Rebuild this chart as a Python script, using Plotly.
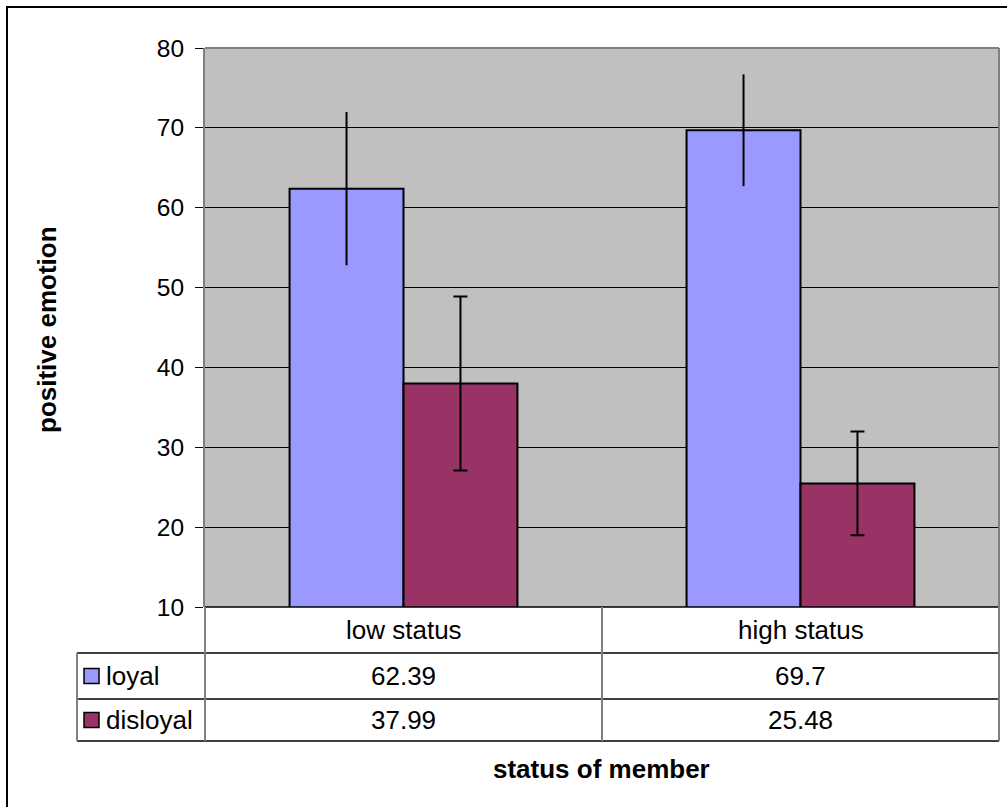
import plotly.graph_objects as go

# ---- data ----
categories = ["low status", "high status"]
series_names = ["loyal", "disloyal"]
loyal = [62.39, 69.7]
disloyal = [37.99, 25.48]
loyal_err = [9.6, 7.0]
disloyal_err = [10.9, 6.5]
y_ticks = [10, 20, 30, 40, 50, 60, 70, 80]
y_title = "positive emotion"
x_title = "status of member"

# ---- layout geometry (pixels) ----
W, H = 1007, 807
PL, PR, PT, PB = 205, 999, 48, 607      # plot area
TAB_L = 77                               # table left edge
ROW1, ROW2, ROW3 = 653, 699, 741         # table row bottoms
FONT = "Liberation Sans, Arial, sans-serif"
colors = ["#9999FF", "#993366"]
GRAY = "#808080"


def px(x):
    return x / W


def py(y):
    return 1 - y / H


fig = go.Figure()
fig.add_trace(go.Bar(
    x=categories, y=loyal, name=series_names[0],
    marker=dict(color=colors[0], line=dict(color="black", width=2)),
    error_y=dict(type="data", array=loyal_err, visible=True,
                 color="black", thickness=2, width=0),
))
fig.add_trace(go.Bar(
    x=categories, y=disloyal, name=series_names[1],
    marker=dict(color=colors[1], line=dict(color="black", width=2)),
    error_y=dict(type="data", array=disloyal_err, visible=True,
                 color="black", thickness=2, width=7),
))

shapes = []
# outer chart frame
shapes.append(dict(type="rect", xref="paper", yref="paper",
                   x0=px(7), x1=px(1015), y0=py(7), y1=py(815),
                   line=dict(color="black", width=2), layer="below"))
# plot area border (gray) top
shapes.append(dict(type="line", xref="paper", yref="paper",
                   x0=px(PL), x1=px(PR), y0=py(PT), y1=py(PT),
                   line=dict(color=GRAY, width=2)))
# table horizontal lines
shapes.append(dict(type="line", xref="paper", yref="paper",
                   x0=px(PL), x1=px(PR), y0=py(PB), y1=py(PB),
                   line=dict(color="black", width=1.5)))
for yy in (ROW1, ROW2, ROW3):
    shapes.append(dict(type="line", xref="paper", yref="paper",
                       x0=px(TAB_L), x1=px(PR), y0=py(yy), y1=py(yy),
                       line=dict(color="black", width=1.5)))
# table vertical lines
shapes.append(dict(type="line", xref="paper", yref="paper",
                   x0=px(TAB_L), x1=px(TAB_L), y0=py(ROW1), y1=py(ROW3),
                   line=dict(color=GRAY, width=2)))
shapes.append(dict(type="line", xref="paper", yref="paper",
                   x0=px(PL), x1=px(PL), y0=py(PB), y1=py(ROW3),
                   line=dict(color=GRAY, width=2)))
mid = (PL + PR) / 2
shapes.append(dict(type="line", xref="paper", yref="paper",
                   x0=px(mid), x1=px(mid), y0=py(PB), y1=py(ROW3),
                   line=dict(color=GRAY, width=2)))
shapes.append(dict(type="line", xref="paper", yref="paper",
                   x0=px(PR), x1=px(PR), y0=py(PT), y1=py(ROW3),
                   line=dict(color=GRAY, width=2)))

annotations = []
row_centers = [(ROW1 + ROW2) / 2, (ROW2 + ROW3) / 2]
cat_w = (PR - PL) / len(categories)
TXT = dict(size=26, color="black", family=FONT)
# category header
for i, c in enumerate(categories):
    annotations.append(dict(x=px(PL + (i + 0.5) * cat_w), y=py((PB + ROW1) / 2),
                            xref="paper", yref="paper", text=c, showarrow=False,
                            xanchor="center", yanchor="middle", font=TXT))
# values
for r, vals in enumerate([loyal, disloyal]):
    for i, v in enumerate(vals):
        annotations.append(dict(x=px(PL + (i + 0.5) * cat_w), y=py(row_centers[r]),
                                xref="paper", yref="paper", text=str(v), showarrow=False,
                                xanchor="center", yanchor="middle", font=TXT))
    # legend key
    yc = row_centers[r]
    shapes.append(dict(type="rect", xref="paper", yref="paper",
                       x0=px(84), x1=px(99), y0=py(yc - 7.5), y1=py(yc + 7.5),
                       fillcolor=colors[r], line=dict(color="black", width=1.5)))
    annotations.append(dict(x=px(104), y=py(yc), xref="paper", yref="paper",
                            text=series_names[r], showarrow=False,
                            xanchor="left", yanchor="middle", font=TXT))
# axis titles
annotations.append(dict(x=px(601), y=py(769), xref="paper", yref="paper",
                        text="<b>" + x_title + "</b>", showarrow=False,
                        xanchor="center", yanchor="middle", font=TXT))
annotations.append(dict(x=px(47), y=py(330), xref="paper", yref="paper",
                        text="<b>" + y_title + "</b>", showarrow=False, textangle=-90,
                        xanchor="center", yanchor="middle", font=TXT))

fig.update_layout(
    width=W, height=H, autosize=False,
    margin=dict(l=0, r=0, t=0, b=0, pad=0, autoexpand=False),
    paper_bgcolor="white", plot_bgcolor="#C0C0C0",
    barmode="group", bargap=0.426, bargroupgap=0,
    showlegend=False,
    shapes=shapes, annotations=annotations,
    xaxis=dict(domain=[px(PL), px(PR)], showticklabels=False, ticks="",
               showline=False, showgrid=False, zeroline=False, fixedrange=True,
               automargin=False),
    yaxis=dict(domain=[py(PB), py(PT)], range=[10, 80], tickvals=y_ticks,
               showgrid=True, gridcolor="black", gridwidth=1, zeroline=False,
               ticks="outside", ticklen=8, tickcolor="black", tickwidth=1,
               showline=True, linecolor=GRAY, linewidth=2,
               ticklabelstandoff=6, automargin=False,
               tickfont=dict(size=24.5, color="black", family=FONT)),
)

fig.write_html("out.html", config={"displayModeBar": False},
               post_script="document.body.style.margin='0';")
